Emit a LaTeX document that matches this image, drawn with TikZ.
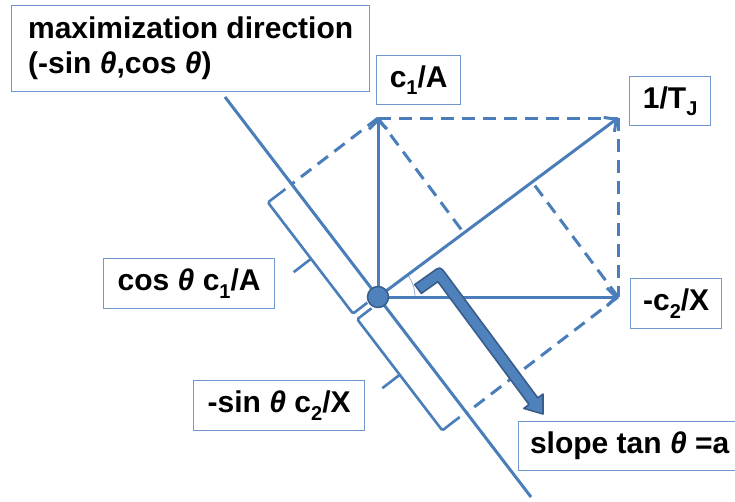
\documentclass[tikz,border=0pt]{standalone}
\usepackage{fontspec}
\setmainfont{Liberation Sans}
\usetikzlibrary{arrows.meta}
\definecolor{lc}{HTML}{4A7EBB}
\definecolor{bc}{HTML}{7098CE}
\definecolor{af}{HTML}{4F81BD}
\definecolor{ad}{HTML}{385D8A}
\newcommand\mysub[1]{\raisebox{-0.25em}{\fontsize{20}{20}\selectfont #1}}
\newcommand\thet{\textit{θ}}
\tikzset{
  ln/.style={draw=lc, line width=3pt},
  dsh/.style={draw=lc, line width=3pt, dash pattern=on 13pt off 8pt},
  brc/.style={draw=lc, line width=2.6pt, rounded corners=1.5pt},
  tipv/.style={-{Straight Barb[length=9pt,width=18pt]}},
  lbl/.style={draw=bc, line width=1.3pt, fill=white, text=black, inner sep=0pt,
    anchor=north west, font=\fontsize{30}{35}\selectfont\bfseries}
}
\begin{document}
\begin{tikzpicture}[x=1pt,y=-1pt]
\useasboundingbox (0,0) rectangle (735,501);
\coordinate (O) at (378,297);
\coordinate (cA) at (378,118);
\coordinate (TJ) at (618,118);
\coordinate (cX) at (618,297);
\coordinate (mTop) at (225,97);
\coordinate (mBot) at (531,497);
\coordinate (fA) at (291.6,184.1);
\coordinate (fX) at (466.6,412.8);
\coordinate (gA) at (465.6,235.4);
\coordinate (gX) at (530.4,179.6);
% main line
\draw[ln] (mTop) -- (mBot);
% dashed projections
\draw[dsh] (cA) -- (TJ);
\draw[dsh] (TJ) -- (cX);
\draw[dsh] (cA) -- (gA);
\draw[dsh] (cX) -- (gX);
\draw[dsh] (cA) -- (fA);
\draw[dsh] (cX) -- (fX);
% braces
\draw[brc] (285.4,189.1) -- (267.9,202.4) -- (353.0,313.6) -- (367.3,302.7);
\draw[brc] (311.0,258.8) -- (293.6,272.2);
\draw[brc] (371.5,308.3) -- (357.2,319.2) -- (442.3,430.4) -- (459.7,417.0);
\draw[brc] (399.7,374.8) -- (382.3,388.2);
% angle arc
\draw[draw=lc!60, line width=0.8pt] (O) ++(37,0) arc[start angle=0,end angle=-36.7,radius=37];
% vectors
\draw[ln, tipv] (O) -- (cA);
\draw[ln, tipv] (O) -- (cX);
\draw[ln, tipv] (O) -- (TJ);
% origin dot
\node[circle, fill=af, draw=ad, line width=1.5pt, minimum size=21pt, inner sep=0pt] (Oc) at (O) {};
% thick bent arrow
\filldraw[fill=af, draw=ad, line width=1.6pt, line join=round]
  (414.7,284.6) -- (432.1,272.3) .. controls (440.1,266.3) .. (446.1,274.3)
  -- (537.8,397.9) -- (543.0,394.0) -- (543,414) -- (523.8,408.4) -- (529.0,404.5)
  -- (437.9,281.7) -- (421.3,293.4) -- cycle;
% labels
\node[lbl, align=left, minimum width=358pt, minimum height=86pt] (title) at (11,5)
  {maximization direction\\(-sin \thet,cos \thet)};
\node[lbl, minimum width=84pt, minimum height=49pt] (lA) at (376,55) {c\mysub{1}/A};
\node[lbl, minimum width=81pt, minimum height=49pt] (lT) at (629,76) {1/T\mysub{J}};
\node[lbl, minimum width=91pt, minimum height=50pt] (lX) at (630,278) {-c\mysub{2}/X};
\node[lbl, minimum width=171pt, minimum height=50pt] (lcos) at (103,258) {cos \thet{} c\mysub{1}/A};
\node[lbl, minimum width=171pt, minimum height=50pt] (lsin) at (193,380) {-sin \thet{} c\mysub{2}/X};
\node[lbl, minimum width=222pt, minimum height=49pt] (lslope) at (518,421) {slope tan \thet{} =a};
\end{tikzpicture}
\end{document}
